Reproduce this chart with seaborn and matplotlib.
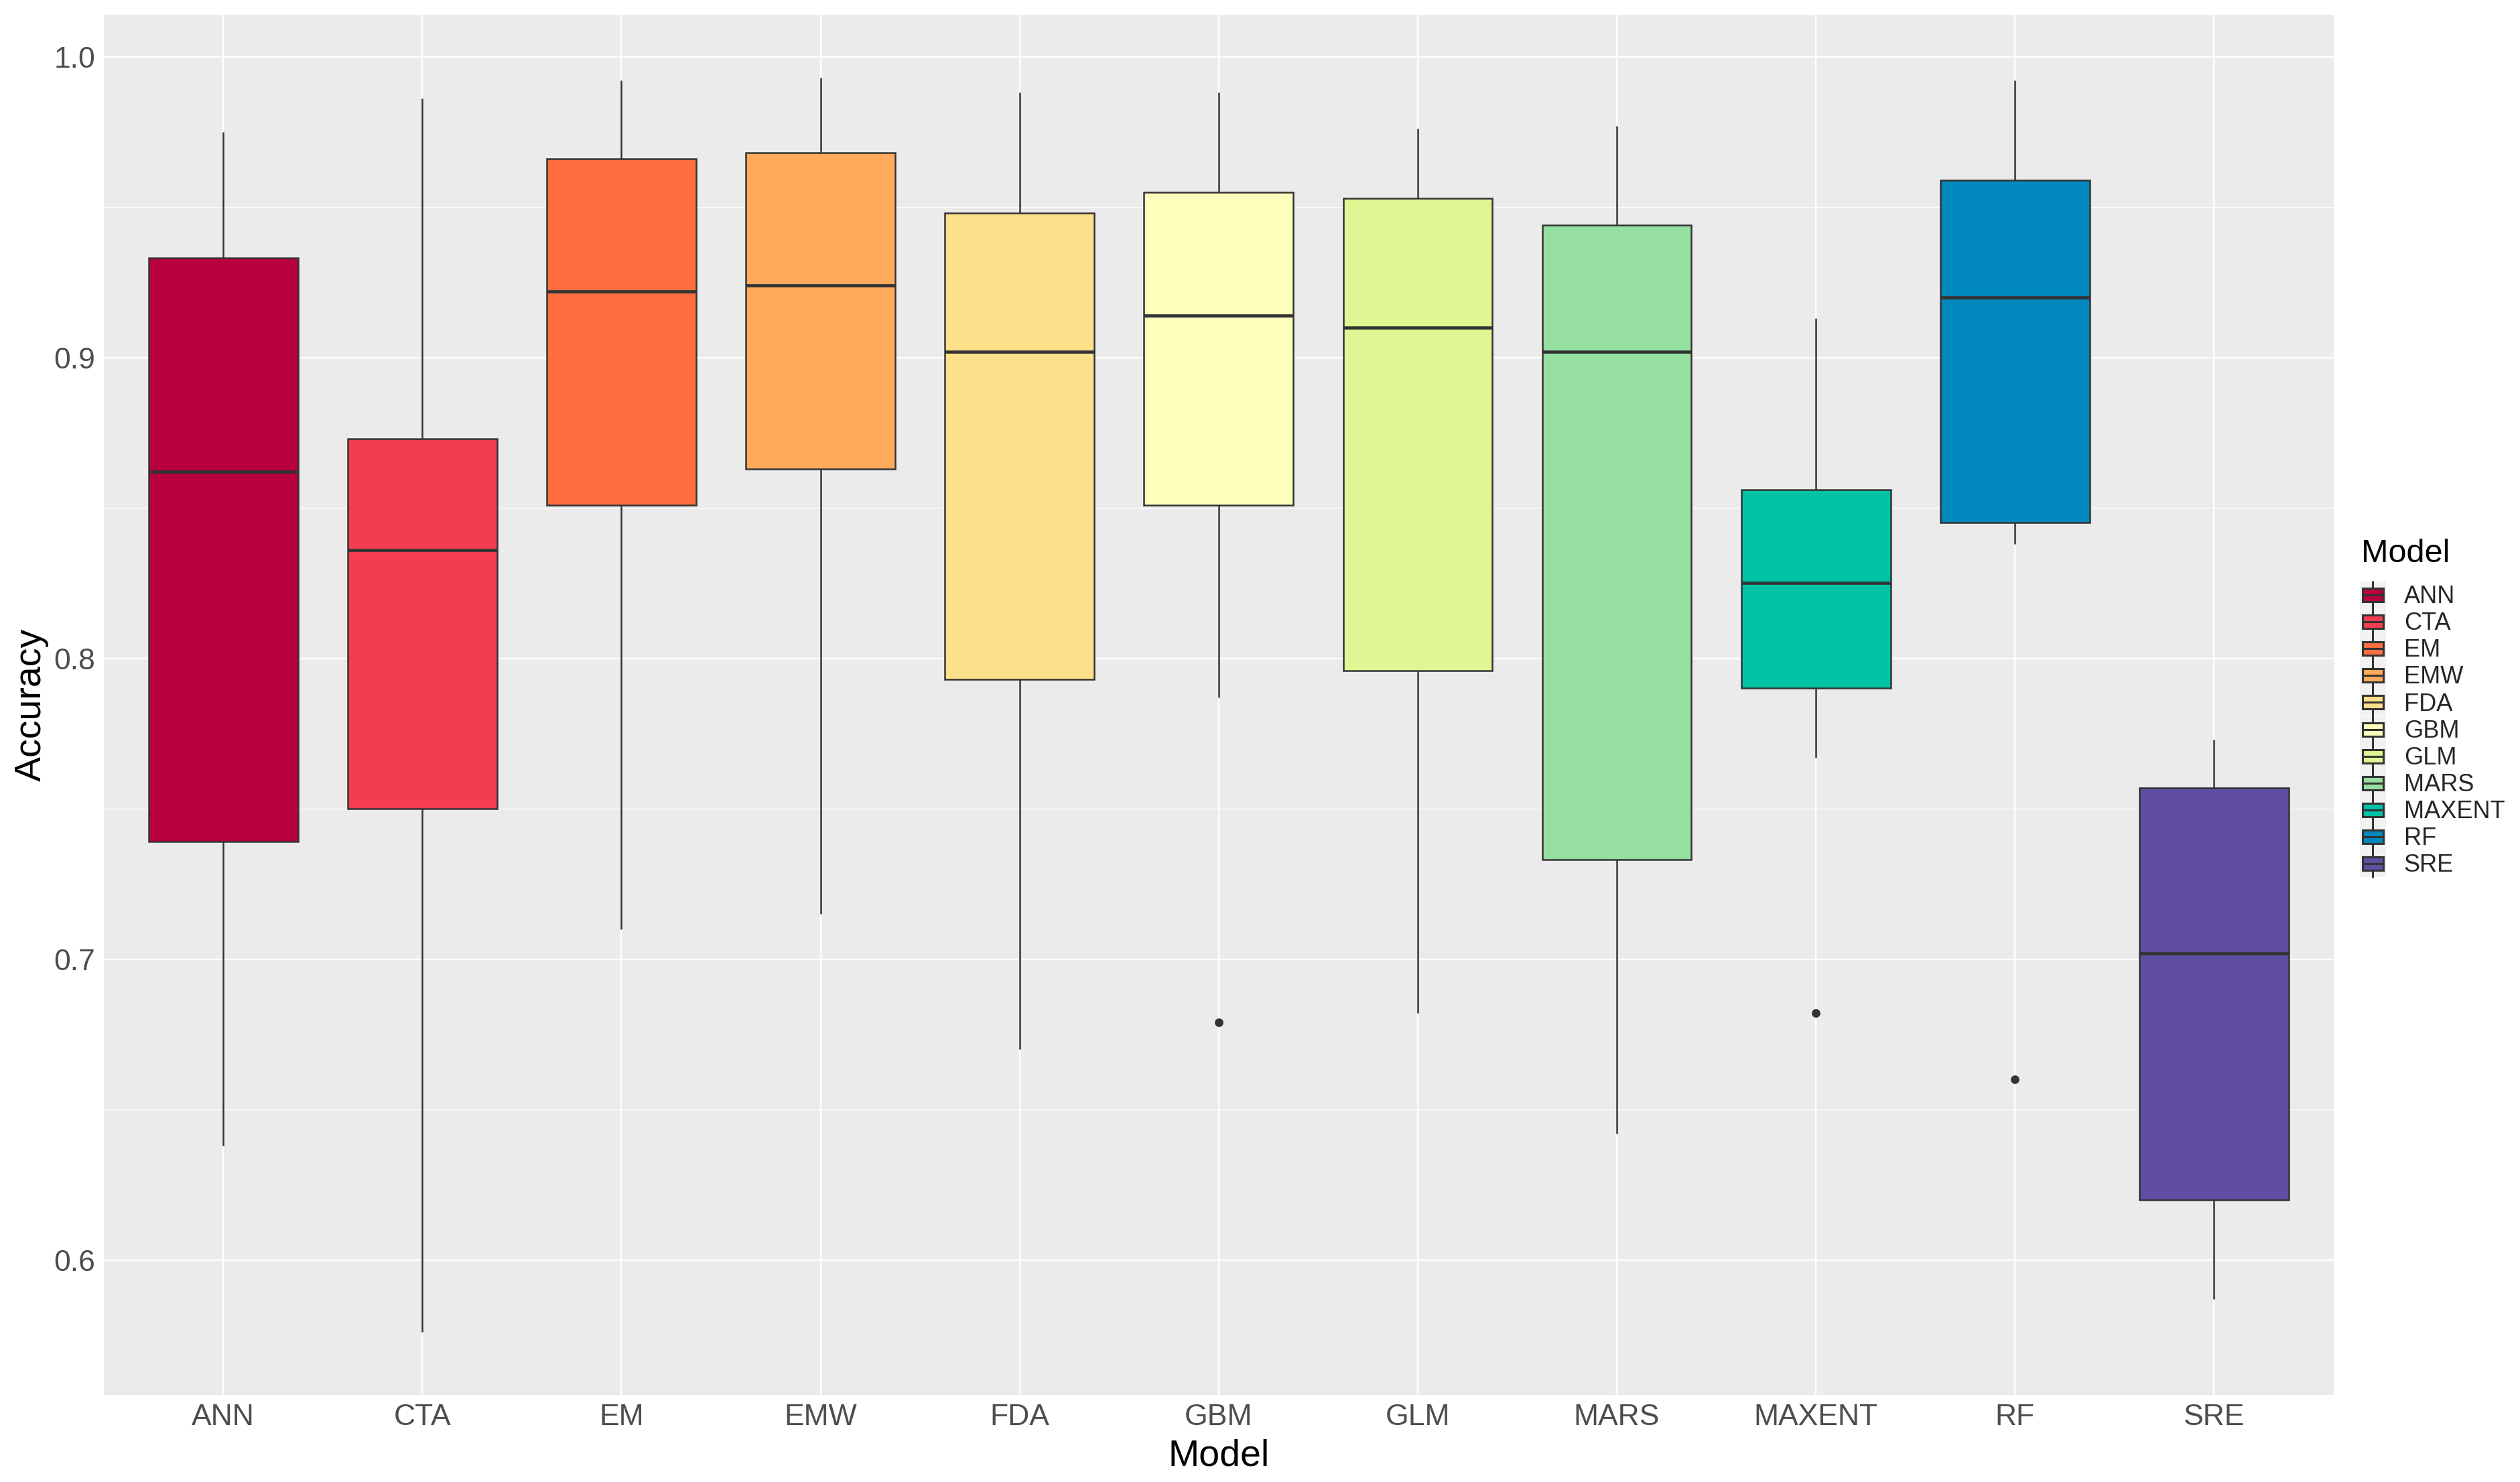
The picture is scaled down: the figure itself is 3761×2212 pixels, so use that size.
import pandas as pd
import matplotlib
matplotlib.use('Agg')
import matplotlib.pyplot as plt
from matplotlib.legend_handler import HandlerBase
from matplotlib.patches import Patch, Rectangle
from matplotlib.lines import Line2D
from matplotlib.ticker import MultipleLocator
import seaborn as sns

# ================================================ DATA ================================================================

MODELS = ['ANN', 'CTA', 'EM', 'EMW', 'FDA', 'GBM', 'GLM', 'MARS', 'MAXENT', 'RF', 'SRE']

# accuracy readings per model (whisker ends, quartiles, median, outliers)
ANN = [0.638, 0.739, 0.862, 0.933, 0.975]
CTA = [0.576, 0.750, 0.836, 0.873, 0.986]
EM = [0.710, 0.851, 0.922, 0.966, 0.992]
EMW = [0.715, 0.863, 0.924, 0.968, 0.993]
FDA = [0.670, 0.793, 0.902, 0.948, 0.988]
GBM = [0.679, 0.787, 0.851, 0.851, 0.914, 0.955, 0.955, 0.988, 0.988]
GLM = [0.682, 0.796, 0.910, 0.953, 0.976]
MARS = [0.642, 0.733, 0.902, 0.944, 0.977]
MAXENT = [0.682, 0.767, 0.790, 0.790, 0.825, 0.856, 0.856, 0.913, 0.913]
RF = [0.660, 0.838, 0.845, 0.845, 0.920, 0.959, 0.959, 0.992, 0.992]
SRE = [0.587, 0.620, 0.702, 0.757, 0.773]

COLORS = ['#B8003F', '#F43C50', '#FF6D40', '#FFAB5B', '#FEDF8A', '#FEFEBD',
          '#E0F593', '#95DFA0', '#00C2A5', '#0088BF', '#5F4EA2']

Y_TICKS = [0.6, 0.7, 0.8, 0.9, 1.0]

EDGE = '#333333'


# ================================================ LEGEND KEY ==========================================================

class BoxKeyHandler(HandlerBase):
    """Draws a small ggplot-like boxplot glyph as legend key."""

    def create_artists(self, legend, orig_handle, xdescent, ydescent, width, height, fontsize, trans):
        x0, y0 = -xdescent, -ydescent
        bg = Rectangle((x0, y0), width, height, facecolor='#F2F2F2', edgecolor='none', transform=trans)
        bw = width * 0.80
        bx = x0 + (width - bw) / 2
        by = y0 + height * 0.25
        bh = height * 0.5
        box = Rectangle((bx, by), bw, bh, facecolor=orig_handle.get_facecolor(), edgecolor=EDGE,
                        linewidth=1.1, transform=trans)
        cx = x0 + width / 2
        med = Line2D([bx, bx + bw], [y0 + height / 2] * 2, color=EDGE, linewidth=1.1, transform=trans)
        w_lo = Line2D([cx, cx], [y0, by], color=EDGE, linewidth=1.1, transform=trans)
        w_hi = Line2D([cx, cx], [by + bh, y0 + height], color=EDGE, linewidth=1.1, transform=trans)
        return [bg, box, med, w_lo, w_hi]


# ================================================ PLOT ================================================================

values = [ANN, CTA, EM, EMW, FDA, GBM, GLM, MARS, MAXENT, RF, SRE]
rows = []
for name, vals in zip(MODELS, values):
    for v in vals:
        rows.append({'Model': name, 'Accuracy': v})
df = pd.DataFrame(rows)

sns.set_theme(style='darkgrid')
plt.rcParams['font.family'] = ['Liberation Sans', 'DejaVu Sans']

fig = plt.figure(figsize=(18.805, 11.06), dpi=200)
ax = fig.add_axes([0.0412, 0.0588, 0.926 - 0.0412, 0.9899 - 0.0588])
ax.set_facecolor('#EBEBEB')

sns.boxplot(data=df, x='Model', y='Accuracy', hue='Model', order=MODELS, hue_order=MODELS,
            palette=COLORS, width=0.75, linecolor=EDGE, linewidth=0.9, legend=False,
            showcaps=False, saturation=1, ax=ax,
            medianprops={'linewidth': 1.7, 'color': EDGE},
            flierprops={'marker': 'o', 'markersize': 3.6, 'markerfacecolor': EDGE,
                        'markeredgecolor': EDGE})

# ggplot-style expansion of the axes
lo, hi = df['Accuracy'].min(), df['Accuracy'].max()
pad = (hi - lo) * 0.05
ax.set_ylim(lo - pad, hi + pad)
ax.set_xlim(-0.6, len(MODELS) - 0.4)

ax.set_yticks(Y_TICKS)
ax.set_yticklabels([f'{t:.1f}' for t in Y_TICKS])
ax.yaxis.set_minor_locator(MultipleLocator(0.05))
ax.grid(which='major', color='white', linewidth=0.85)
ax.grid(which='minor', axis='y', color='white', linewidth=0.45)
ax.set_axisbelow(True)
for s in ax.spines.values():
    s.set_visible(False)

ax.tick_params(axis='both', which='major', length=2.7, width=0.8, color=EDGE, labelsize=16,
               labelcolor='#4D4D4D', pad=2)
ax.tick_params(axis='y', which='minor', length=0)
ax.set_xlabel('Model', fontsize=20, color='black', labelpad=4)
ax.set_ylabel('Accuracy', fontsize=20, color='black', labelpad=2.5)

# legend: title as separate text so the gap matches ggplot
fig.text(0.937, 0.6207, 'Model', fontsize=17.5, color='black', ha='left', va='baseline')
handles = [Patch(facecolor=c) for c in COLORS]
leg = fig.legend(handles, MODELS, loc='upper left', bbox_to_anchor=(0.9364, 0.6076),
                 frameon=False, fontsize=13, handler_map={Patch: BoxKeyHandler()},
                 handlelength=1.08, handleheight=1.33, labelspacing=0.0, handletextpad=0.75,
                 borderpad=0, borderaxespad=0)

fig.savefig('out.png', dpi=200)
